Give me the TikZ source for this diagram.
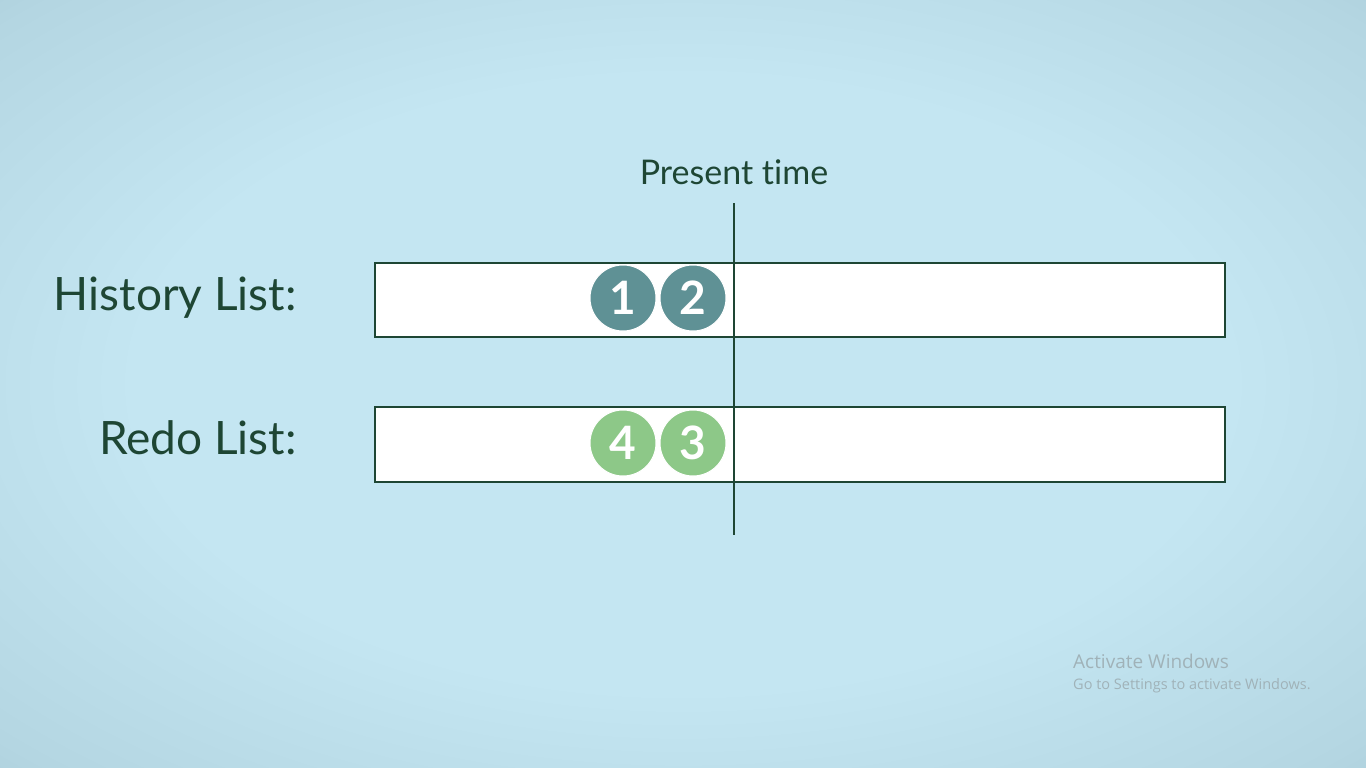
\documentclass[tikz,border=0pt]{standalone}
\usepackage{fontspec}
\setmainfont{Lato}[Ligatures=NoCommon]
\newfontfamily\winfont{Open Sans}
\definecolor{bgc}{HTML}{C4E6F2}
\definecolor{bgm}{HTML}{B4D6E2}
\definecolor{bge}{HTML}{94B6C3}
\definecolor{ink}{HTML}{1E4634}
\definecolor{teal}{HTML}{5F9195}
\definecolor{leaf}{HTML}{8DC888}
\definecolor{wintxt}{HTML}{A0B2B8}
\pgfdeclareradialshading{vig}{\pgfpoint{0bp}{0bp}}{color(0bp)=(bgc); color(20bp)=(bgc); color(34bp)=(bgm); color(50bp)=(bge)}
\begin{document}
\begin{tikzpicture}[x=1pt,y=-1pt,
  listbox/.style={draw=ink, fill=white, line width=2pt},
  num/.style={circle, minimum size=66pt, inner sep=0pt, draw=white, line width=1pt, text=white, font=\fontsize{46}{48}\selectfont\bfseries},
  label/.style={text=ink, font=\fontsize{46}{48}\selectfont, anchor=base east, inner sep=0pt}]
\useasboundingbox (0,0) rectangle (1366,768);
\shade[shading=vig] (0,0) rectangle (1366,768);
\node[listbox, minimum width=850pt, minimum height=74pt, inner sep=0pt, anchor=north west] (hist) at (374,262) {};
\node[listbox, minimum width=850pt, minimum height=75pt, inner sep=0pt, anchor=north west] (redo) at (374,406) {};
\node[num, fill=teal] (n1) at (623,298) {1};
\node[num, fill=teal] (n2) at (693,298) {2};
\node[num, fill=leaf] (n4) at (623,443) {4};
\node[num, fill=leaf] (n3) at (693,443) {3};
\coordinate (ttop) at (734,203);
\coordinate (tbot) at (734,535);
\draw[ink, line width=2pt] (ttop) -- (tbot);
\node[text=ink, font=\fontsize{34}{36}\selectfont, anchor=base, inner sep=0pt] (pt) at (734,184) {Present time};
\node[label] (hl) at (297,310) {History List:};
\node[label] (rl) at (297,454) {Redo List:};
\node[text=wintxt, font=\winfont\fontsize{19}{21}\selectfont, anchor=base west, inner sep=0pt] (aw) at (1073,668) {Activate Windows};
\node[text=wintxt, font=\winfont\fontsize{14.5}{16}\selectfont, anchor=base west, inner sep=0pt] (gs) at (1073,689) {Go to Settings to activate Windows.};
\end{tikzpicture}
\end{document}
